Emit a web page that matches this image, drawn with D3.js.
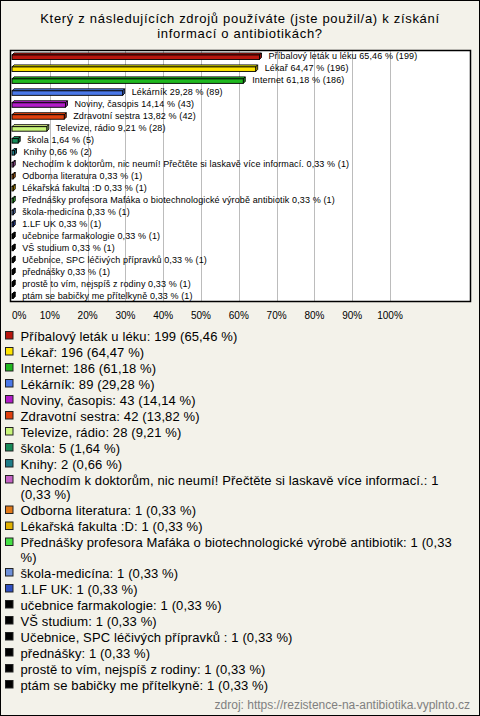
<!DOCTYPE html>
<html><head><meta charset="utf-8">
<script src="https://cdn.jsdelivr.net/npm/d3@7"></script>
<style>body{margin:0;padding:0;background:#fff}svg{display:block}text{font-family:"Liberation Sans",Arial,sans-serif}</style>
</head><body>
<script>
const titleLines = ["Který z následujících zdrojů používáte (jste použil/a) k získání", "informací o antibiotikách?"];
const categories = [
  "Příbalový leták u léku", "Lékař", "Internet", "Lékárník", "Noviny, časopis",
  "Zdravotní sestra", "Televize, rádio", "škola", "Knihy",
  "Nechodím k doktorům, nic neumí! Přečtěte si laskavě více informací.",
  "Odborna literatura", "Lékařská fakulta :D",
  "Přednášky profesora Mafáka o biotechnologické výrobě antibiotik",
  "škola-medicína", "1.LF UK", "učebnice farmakologie", "VŠ studium",
  "Učebnice, SPC léčivých přípravků ", "přednášky", "prostě to vím, nejspíš z rodiny",
  "ptám se babičky me přítelkyně"
];
const counts = [199, 196, 186, 89, 43, 42, 28, 5, 2, 1, 1, 1, 1, 1, 1, 1, 1, 1, 1, 1, 1];
const percents = [65.46, 64.47, 61.18, 29.28, 14.14, 13.82, 9.21, 1.64, 0.66, 0.33, 0.33, 0.33, 0.33, 0.33, 0.33, 0.33, 0.33, 0.33, 0.33, 0.33, 0.33];
const colors = ["#b8160e", "#ffe500", "#1fb81f", "#4a78e8", "#b21cc8", "#e0400e", "#c8f57a", "#168a58", "#1e7c88",
  "#c462c4", "#e07818", "#e0b000", "#44e044", "#6e90d8", "#2f4fc0",
  "#000000", "#000000", "#000000", "#000000", "#000000", "#000000"];
const tickValues = [0, 10, 20, 30, 40, 50, 60, 70, 80, 90, 100];
const sourceText = "zdroj: https://rezistence-na-antibiotika.vyplnto.cz";

const W = 480, H = 716;
const fmt = v => v.toFixed(2).replace(".", ",");
const svg = d3.select("body").append("svg").attr("width", W).attr("height", H);
svg.append("rect").attr("x", 0.5).attr("y", 0.5).attr("width", W - 1).attr("height", H - 1)
  .attr("fill", "#f3f2ea").attr("stroke", "#000");

// title
svg.append("g").selectAll("text").data(titleLines).join("text")
  .attr("x", 240).attr("y", (d, i) => 23 + i * 15)
  .attr("text-anchor", "middle").attr("font-size", 13).attr("letter-spacing", 0.7).attr("fill", "#000")
  .text(d => d);

const plot = {left: 10.5, top: 50.5, right: 470.5, bottom: 301.5};
const x = d3.scaleLinear().domain([0, 100]).range([12, 390]);
const y = d3.scaleBand().domain(categories).range([plot.top, plot.bottom]).padding(0);

svg.append("rect").attr("x", plot.left).attr("y", plot.top)
  .attr("width", plot.right - plot.left).attr("height", plot.bottom - plot.top).attr("fill", "#fff");

svg.append("g").selectAll("line").data(tickValues.filter(t => t > 0)).join("line")
  .attr("x1", d => Math.round(x(d)) + 0.5).attr("x2", d => Math.round(x(d)) + 0.5)
  .attr("y1", plot.top).attr("y2", plot.bottom).attr("stroke", "#bcbcbc").attr("stroke-width", 1);

// bars
const depth = 2;
const rows = categories.map((c, i) => ({c, i, n: counts[i], p: percents[i], col: colors[i]}));
const bars = svg.append("g").selectAll("g").data(rows).join("g");
bars.each(function(d) {
  const g = d3.select(this);
  const cy = y(d.c) + y.bandwidth() / 2;
  const x0 = x(0), x1 = x(d.p), yT = cy - 1.5, yB = cy + 3;
  const c = d3.color(d.col);
  g.append("polygon").attr("points", [[x0, yT], [x0 + depth, yT - depth], [x1 + depth, yT - depth], [x1, yT]].join(" "))
    .attr("fill", c.brighter(0.4)).attr("stroke", "#000").attr("stroke-width", 0.9).attr("stroke-linejoin", "round");
  g.append("polygon").attr("points", [[x1, yT], [x1 + depth, yT - depth], [x1 + depth, yB - depth], [x1, yB]].join(" "))
    .attr("fill", c.darker(0.6)).attr("stroke", "#000").attr("stroke-width", 0.9).attr("stroke-linejoin", "round");
  g.append("rect").attr("x", x0).attr("y", yT).attr("width", Math.max(0.1, x1 - x0)).attr("height", yB - yT)
    .attr("fill", d.col).attr("stroke", "#000").attr("stroke-width", 0.9);
  g.append("text").attr("x", x1 + depth + 7).attr("y", cy + 3).attr("font-size", 9)
    .attr("letter-spacing", 0.12).attr("fill", "#000")
    .text(d.c + " " + fmt(d.p) + " % (" + d.n + ")");
});

svg.append("rect").attr("x", plot.left).attr("y", plot.top)
  .attr("width", plot.right - plot.left).attr("height", plot.bottom - plot.top)
  .attr("fill", "none").attr("stroke", "#000").attr("stroke-width", 1.5);

// axis labels
svg.append("g").selectAll("text").data(tickValues).join("text")
  .attr("x", d => d === 0 ? 12 : x(d)).attr("y", 319)
  .attr("text-anchor", d => d === 0 ? "start" : "middle")
  .attr("font-size", 10).attr("fill", "#000").text(d => d + "%");

// legend
const lg = svg.append("g");
let ly = 336;
const lineH = 14.5, gap = 1.5, maxX = 462;
rows.forEach(d => {
  lg.append("rect").attr("x", 5.5).attr("y", ly - 4.5).attr("width", 7.5).attr("height", 7.5)
    .attr("fill", d.col).attr("stroke", "#222").attr("stroke-width", 1);
  const full = d.c + ": " + d.n + " (" + fmt(d.p) + " %)";
  const words = full.split(" ");
  const t = lg.append("text").attr("font-size", 13).attr("letter-spacing", 0.12).attr("fill", "#000");
  let lines = [], cur = "";
  words.forEach(w => {
    const test = cur === "" ? w : cur + " " + w;
    t.text(test);
    if (20.5 + t.node().getComputedTextLength() > maxX && cur !== "") { lines.push(cur); cur = w; }
    else cur = test;
  });
  lines.push(cur);
  t.text(null);
  t.selectAll("tspan").data(lines).join("tspan")
    .attr("x", 20.5).attr("y", (l, k) => ly + 4.5 + k * lineH).text(l => l);
  ly += lines.length * lineH + gap;
});

svg.append("text").attr("x", 470).attr("y", 709).attr("text-anchor", "end")
  .attr("font-size", 12).attr("fill", "#808080").text(sourceText);
</script>
</body></html>
